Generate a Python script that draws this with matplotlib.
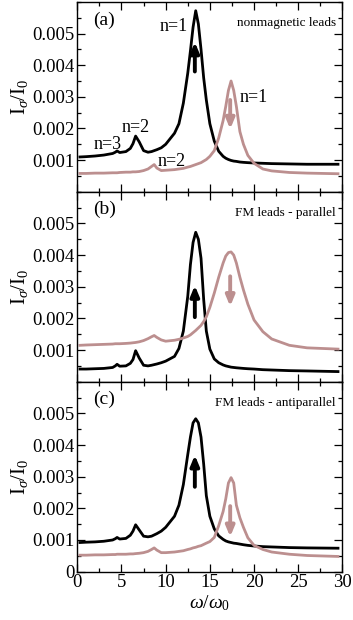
import matplotlib
matplotlib.use("Agg")
import matplotlib.pyplot as plt
from matplotlib.ticker import MultipleLocator

plt.rcParams['font.family'] = ['Liberation Serif', 'DejaVu Serif']
plt.rcParams['mathtext.fontset'] = 'custom'
plt.rcParams['mathtext.rm'] = 'Liberation Serif'
plt.rcParams['mathtext.it'] = 'Liberation Serif:italic'

# omega / omega_0 sample points
w = [0.3, 1, 2, 3, 4, 4.3, 4.5, 4.8, 5.5, 6, 6.3, 6.6, 7, 7.5, 8, 8.4, 8.7, 9,
     9.5, 10, 11, 11.5, 12, 12.5, 12.8, 13.1, 13.4, 13.7, 14, 14.3, 14.6, 15,
     15.5, 16, 16.5, 16.8, 17.1, 17.4, 17.7, 18, 18.4, 18.8, 19.3, 20, 21, 22,
     24, 26, 29.5]

# (a) nonmagnetic leads
a_up = [0.00110, 0.00111, 0.00113, 0.00116, 0.00121, 0.00125, 0.00129, 0.00124,
        0.00127, 0.00137, 0.00152, 0.00176, 0.00158, 0.00130, 0.00125, 0.00127,
        0.00130, 0.00133, 0.00139, 0.00150, 0.00185, 0.00215, 0.00280, 0.00375,
        0.00445, 0.00520, 0.00572, 0.00530, 0.00450, 0.00360, 0.00290, 0.00215,
        0.00160, 0.00128, 0.00112, 0.00106, 0.00102, 0.00099, 0.00097, 0.00096,
        0.00094, 0.00093, 0.00092, 0.00091, 0.00090, 0.00089, 0.00088, 0.00087,
        0.00087]
a_dn = [0.00058, 0.00058, 0.00059, 0.00059, 0.00060, 0.00060, 0.00060, 0.00061,
        0.00062, 0.00062, 0.00063, 0.00063, 0.00064, 0.00067, 0.00072, 0.00080,
        0.00086, 0.00075, 0.00067, 0.00068, 0.00070, 0.00072, 0.00074, 0.00078,
        0.00080, 0.00083, 0.00086, 0.00089, 0.00092, 0.00097, 0.00102, 0.00112,
        0.00130, 0.00170, 0.00225, 0.00270, 0.00320, 0.00350, 0.00320, 0.00270,
        0.00190, 0.00150, 0.00115, 0.00090, 0.00072, 0.00066, 0.00061, 0.00059,
        0.00057]

# (b) FM leads - parallel
b_up = [0.00040, 0.00040, 0.00041, 0.00042, 0.00045, 0.00050, 0.00055, 0.00049,
        0.00050, 0.00058, 0.00070, 0.00098, 0.00075, 0.00052, 0.00050, 0.00052,
        0.00054, 0.00056, 0.00060, 0.00065, 0.00080, 0.00105, 0.00160, 0.00270,
        0.00370, 0.00440, 0.00472, 0.00450, 0.00390, 0.00260, 0.00160, 0.00103,
        0.00072, 0.00060, 0.00053, 0.00050, 0.00048, 0.00046, 0.00045, 0.00044,
        0.00043, 0.00042, 0.00041, 0.00040, 0.00038, 0.00037, 0.00035, 0.00034,
        0.00032]
b_dn = [0.00115, 0.00116, 0.00117, 0.00118, 0.00119, 0.00120, 0.00120, 0.00120,
        0.00121, 0.00122, 0.00123, 0.00124, 0.00126, 0.00130, 0.00136, 0.00142,
        0.00146, 0.00140, 0.00132, 0.00128, 0.00131, 0.00134, 0.00138, 0.00143,
        0.00148, 0.00155, 0.00162, 0.00170, 0.00178, 0.00190, 0.00205, 0.00235,
        0.00280, 0.00330, 0.00375, 0.00397, 0.00408, 0.00410, 0.00400, 0.00375,
        0.00330, 0.00290, 0.00245, 0.00195, 0.00158, 0.00135, 0.00115, 0.00107,
        0.00103]

# (c) FM leads - antiparallel
c_up = [0.00092, 0.00093, 0.00094, 0.00096, 0.00100, 0.00104, 0.00108, 0.00103,
        0.00105, 0.00115, 0.00128, 0.00148, 0.00132, 0.00112, 0.00110, 0.00112,
        0.00116, 0.00120, 0.00128, 0.00140, 0.00175, 0.00210, 0.00275, 0.00370,
        0.00425, 0.00470, 0.00483, 0.00470, 0.00425, 0.00340, 0.00240, 0.00175,
        0.00135, 0.00113, 0.00102, 0.00097, 0.00094, 0.00092, 0.00090, 0.00089,
        0.00087, 0.00085, 0.00083, 0.00081, 0.00079, 0.00078, 0.00076, 0.00075,
        0.00074]
c_dn = [0.00052, 0.00052, 0.00053, 0.00053, 0.00054, 0.00054, 0.00055, 0.00055,
        0.00055, 0.00056, 0.00056, 0.00057, 0.00058, 0.00060, 0.00064, 0.00070,
        0.00075, 0.00068, 0.00060, 0.00060, 0.00062, 0.00064, 0.00066, 0.00070,
        0.00072, 0.00075, 0.00077, 0.00080, 0.00082, 0.00086, 0.00090, 0.00095,
        0.00108, 0.00145, 0.00190, 0.00230, 0.00280, 0.00297, 0.00280, 0.00210,
        0.00170, 0.00140, 0.00107, 0.00083, 0.00070, 0.00062, 0.00055, 0.00051,
        0.00048]

panels = [(a_up, a_dn, '(a)', 'nonmagnetic leads'),
          (b_up, b_dn, '(b)', 'FM leads - parallel'),
          (c_up, c_dn, '(c)', 'FM leads - antiparallel')]

# arrow tails/tips (spin up at 13.3, spin down at 17.3)
arrows = [((0.0038, 0.00473), (0.0029, 0.00198)),
          ((0.00204, 0.00304), (0.00333, 0.00238)),
          ((0.00268, 0.00368), (0.00207, 0.00110))]

pink = '#bc8f8f'

fig, axes = plt.subplots(3, 1, figsize=(3.53, 6.2), dpi=100, sharex=True)
fig.subplots_adjust(left=0.219, right=0.970, top=0.997, bottom=0.078, hspace=0)

for i, (ax, (up, dn, tag, title)) in enumerate(zip(axes, panels)):
    ax.plot(w, up, color='black', lw=2.0)
    ax.plot(w, dn, color=pink, lw=2.0)
    ax.set_xlim(0, 30)
    ax.set_ylim(0, 0.006)
    ax.xaxis.set_major_locator(MultipleLocator(5))
    ax.xaxis.set_minor_locator(MultipleLocator(2.5))
    ax.yaxis.set_major_locator(MultipleLocator(0.001))
    ax.yaxis.set_minor_locator(MultipleLocator(0.0005))
    ax.tick_params(which='both', direction='in', top=True, right=True, labelsize=13.5)
    ax.tick_params(which='major', length=5.5, width=0.9, pad=2)
    ax.tick_params(which='minor', length=3, width=0.9)
    for s in ax.spines.values():
        s.set_linewidth(1.0)
    ticks = [0.001, 0.002, 0.003, 0.004, 0.005]
    if i == 2:
        ticks = [0] + ticks
    ax.set_yticks(ticks)
    ax.set_yticklabels(['0' if t == 0 else '%.3f' % t for t in ticks])
    ax.set_ylabel(r'I$_\sigma$/I$_0$', fontsize=15, labelpad=2)
    ax.text(0.06, 0.905, tag, transform=ax.transAxes, fontsize=14, va='center')
    ax.text(0.975, 0.89, title, transform=ax.transAxes, fontsize=9.5,
            ha='right', va='center')
    (bt, bh), (pt, ph) = arrows[i]
    ax.annotate('', xy=(13.3, bh), xytext=(13.3, bt),
                arrowprops=dict(arrowstyle='-|>,head_width=0.25,head_length=0.6',
                                lw=2.8, color='black', shrinkA=0, shrinkB=0))
    ax.annotate('', xy=(17.3, ph), xytext=(17.3, pt),
                arrowprops=dict(arrowstyle='-|>,head_width=0.25,head_length=0.6',
                                lw=2.8, color=pink, shrinkA=0, shrinkB=0))

ax = axes[0]
ax.text(10.95, 0.00523, 'n=1', fontsize=13, ha='center', va='center')
ax.text(20.0, 0.00297, 'n=1', fontsize=13, ha='center', va='center')
ax.text(6.65, 0.00202, 'n=2', fontsize=13, ha='center', va='center')
ax.text(3.45, 0.00148, 'n=3', fontsize=13, ha='center', va='center')
ax.text(10.7, 0.00097, 'n=2', fontsize=13, ha='center', va='center')

axes[2].set_xlabel(r'$\omega$/$\omega_0$', fontsize=14, labelpad=1)

fig.savefig('out.png', dpi=100)
